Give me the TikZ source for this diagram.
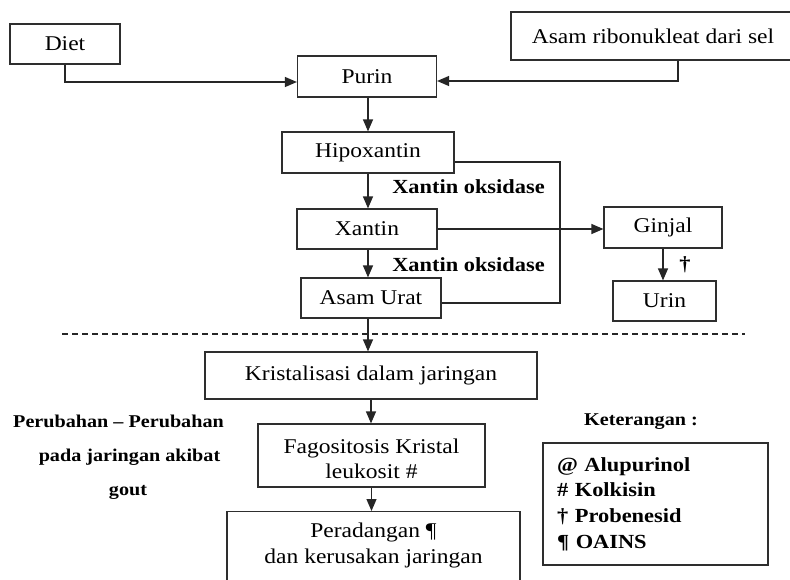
\documentclass[tikz,border=0pt]{standalone}
\usepackage{fontspec}
\setmainfont{Liberation Serif}[FakeStretch=1.12]
\usetikzlibrary{arrows.meta,calc}
\begin{document}
\begin{tikzpicture}[x=1pt,y=-1pt,
  box/.style={draw=black!82, line width=1.2pt, inner sep=0pt, align=center,
    font=\fontsize{21}{25}\selectfont},
  conn/.style={draw=black!85, line width=1.2pt},
  arr/.style={conn, -{Triangle[length=12pt,width=10pt]}},
  boldlbl/.style={inner sep=0pt, font=\fontsize{20}{25.7}\selectfont\bfseries},
  sidelbl/.style={inner sep=0pt, font=\fontsize{18}{22}\selectfont\bfseries},
]
\fill[white] (0,0) rectangle (790,579);
\useasboundingbox (0,0) rectangle (790,579);

% top sources
\node[box, minimum width=110, minimum height=40] (diet) at (65,44) {Diet};
\node[box, minimum width=284, minimum height=48] (asam) at (653,36) {Asam ribonukleat dari sel};
\node[box, minimum width=139, minimum height=41] (purin) at (367,76.5) {Purin};

% chain
\node[box, minimum width=172, minimum height=41] (hipo) at (368,152.5) {Hipoxantin};
\node[box, minimum width=140, minimum height=40] (xantin) at (367,229) {Xantin};
\node[box, minimum width=140, minimum height=40] (urat) at (371,298) {Asam Urat};
\node[box, minimum width=118, minimum height=41] (ginjal) at (663,227.5) {Ginjal};
\node[box, minimum width=103, minimum height=40] (urin) at (664.5,301) {Urin};

\node[boldlbl] (xo1) at (468.5,187) {Xantin oksidase};
\node[boldlbl] (xo2) at (468.5,265) {Xantin oksidase};
\node[boldlbl] (dag) at (685,265) {†};

% lower part
\node[box, minimum width=332, minimum height=47] (kristal) at (371,375.5) {Kristalisasi dalam jaringan};
\node[box, minimum width=227, minimum height=63] (fago) at (371.5,455.5) {};
\node[inner sep=0pt, align=center, font=\fontsize{21}{25}\selectfont] (fagotxt) at (371.5,459) {Fagositosis Kristal\\leukosit \#};
\node[box, minimum width=293, minimum height=100, anchor=north] (perad) at (373.5,511) {};
\node[inner sep=0pt, align=center, font=\fontsize{21}{26}\selectfont] (peradtxt) at (373.5,545) {Peradangan ¶\\dan kerusakan jaringan};

% side labels
\node[sidelbl] (side1) at (118.5,421) {Perubahan – Perubahan};
\node[sidelbl] (side2) at (129.5,457) {pada jaringan akibat};
\node[sidelbl] (side3) at (128,492) {gout};
\node[sidelbl] (ket) at (641,422) {Keterangan :};
\node[box, minimum width=225, minimum height=122, text width=197, align=left,
  font=\fontsize{20}{25.7}\selectfont\bfseries] (legend) at (655.5,504)
  {@ Alupurinol\\\# Kolkisin\\† Probenesid\\¶ OAINS};

% coordinates for bends
\coordinate (dj) at (65,82);
\coordinate (aj) at (678,81);
\coordinate (h1) at (560,162);
\coordinate (h2) at (560,303);
\coordinate (d1) at (62,334);
\coordinate (d2) at (745,334);

% connectors
\draw[arr] (diet.south) |- (purin.west |- dj);
\draw[arr] (asam.south -| aj) |- (purin.east |- aj);
\draw[arr] (purin.south -| hipo.north) -- (hipo.north);
\draw[arr] (hipo.south) -- (hipo.south |- xantin.north);
\draw[arr] (hipo.south |- xantin.south) -- (hipo.south |- urat.north);
\draw[conn] (hipo.east |- h1) -- (h1) -- (h2) -- (urat.east |- h2);
\draw[arr] (xantin.east) -- (xantin.east -| ginjal.west);
\draw[arr] (ginjal.south) -- (ginjal.south |- urin.north);
\draw[conn, dashed, dash pattern=on 6pt off 4pt] (d1) -- (d2);
\draw[arr] (hipo.south |- urat.south) -- (hipo.south |- kristal.north);
\draw[arr] (kristal.south) -- (kristal.south |- fago.north);
\draw[arr] (fago.south) -- (fago.south |- perad.north);
\end{tikzpicture}
\end{document}
